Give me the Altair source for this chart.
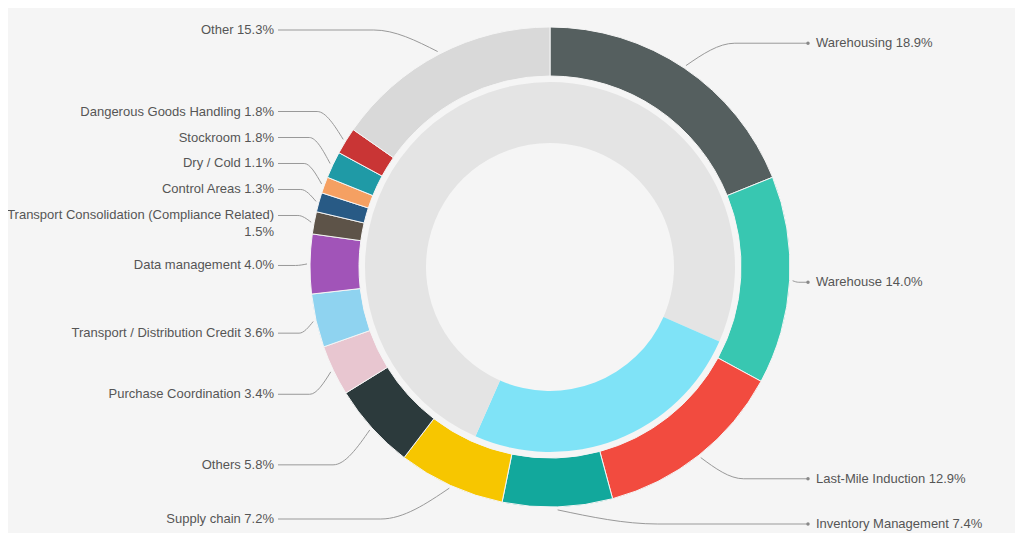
import math
import altair as alt
import pandas as pd

# ---- data ----
categories = [
    "Warehousing", "Warehouse", "Last-Mile Induction", "Inventory Management",
    "Supply chain", "Others", "Purchase Coordination",
    "Transport / Distribution Credit", "Data management",
    "Transport Consolidation (Compliance Related)", "Control Areas",
    "Dry / Cold", "Stockroom", "Dangerous Goods Handling", "Other",
]
values = [18.9, 14.0, 12.9, 7.4, 7.2, 5.8, 3.4, 3.6, 4.0, 1.5, 1.3, 1.1, 1.8, 1.8, 15.3]
colors = [
    "#555f5f", "#38c7b1", "#f24b3f", "#12a89c", "#f7c600", "#2c3a3c",
    "#e8c6d0", "#8fd3f0", "#a154b8", "#5d5348", "#285a85", "#f5a062",
    "#1f9aa6", "#c93535", "#d9d9d9",
]
inner_parts = ["Before", "Focus", "After"]
inner_values = [31.6, 25.0, 43.4]
inner_colors = ["#e4e4e4", "#7fe3f7", "#e4e4e4"]

# ---- layout ----
W, H = 1007, 525
CX, CY = 542, 259
R_OUT, R_IN = 240, 191
R2_OUT, R2_IN = 185, 124
R_LINE = 243
XL_LEFT, XL_RIGHT = -272, 258


def arcs(vals):
    tot = sum(vals)
    out, c = [], 0.0
    for v in vals:
        t0 = 2 * math.pi * c / tot
        c += v
        t1 = 2 * math.pi * c / tot
        out.append((t0, t1))
    return out


outer_arcs = arcs(values)
inner_arcs = arcs(inner_values)

outer_df = pd.DataFrame({
    "cat": categories,
    "val": values,
    "t0": [a[0] for a in outer_arcs],
    "t1": [a[1] for a in outer_arcs],
    "cx": 0.0, "cy": 0.0,
})
inner_df = pd.DataFrame({
    "part": inner_parts,
    "t0": [a[0] for a in inner_arcs],
    "t1": [a[1] for a in inner_arcs],
    "cx": 0.0, "cy": 0.0,
})

# label placement
labels = []
for cat, v, (t0, t1) in zip(categories, values, outer_arcs):
    m = (t0 + t1) / 2
    side = "R" if m < math.pi else "L"
    if side == "L":
        y0 = max(-237, min(252, -295 * math.cos(m)))
    else:
        y0 = max(-237, min(257, -270 * math.cos(m)))
    txt = f"{cat} {v:.1f}%"
    lines = 1
    if len(cat) > 35:
        txt = f"{cat}\n{v:.1f}%"
        lines = 2
    labels.append({"cat": cat, "m": m, "side": side, "y": y0, "txt": txt, "lines": lines})

for side in ("L", "R"):
    grp = sorted([l for l in labels if l["side"] == side], key=lambda d: d["y"])
    for _ in range(300):
        moved = False
        for a, b in zip(grp, grp[1:]):
            gap = 26 if a["lines"] == 1 else 50
            d = a["y"] + gap - b["y"]
            if d > 0.01:
                a["y"] -= d / 2
                b["y"] += d / 2
                moved = True
        if not moved:
            break

text_rows, line_rows, dot_rows = [], [], []
for i, l in enumerate(labels):
    xl = XL_LEFT if l["side"] == "L" else XL_RIGHT
    px2 = R_LINE * math.sin(l["m"])
    py2 = -R_LINE * math.cos(l["m"])
    px1 = xl + 0.6 * (px2 - xl)
    for px, py in ((xl, l["y"]), (px1, l["y"]), (px2, py2)):
        line_rows.append({"id": i, "px": px, "py": py})
    if l["side"] == "R":
        dot_rows.append({"px": xl, "py": l["y"]})
    tx = xl - 4 if l["side"] == "L" else xl + 8
    ty = l["y"]
    text_rows.append({"side": l["side"], "tx": tx, "ty": ty, "txt": l["txt"]})

lines_df = pd.DataFrame(line_rows)
text_df = pd.DataFrame(text_rows)
dots_df = pd.DataFrame(dot_rows)

xs = alt.Scale(domain=[-CX, W - CX])
ys = alt.Scale(domain=[-CY, H - CY], reverse=True)

base_xy = dict(
    x=alt.X("cx:Q", scale=xs, axis=None),
    y=alt.Y("cy:Q", scale=ys, axis=None),
)

inner = alt.Chart(inner_df).mark_arc(innerRadius=R2_IN, outerRadius=R2_OUT).encode(
    theta=alt.Theta("t0:Q", scale=None),
    theta2=alt.Theta2("t1:Q"),
    color=alt.Color("part:N", scale=alt.Scale(domain=inner_parts, range=inner_colors), legend=None),
    **base_xy,
)

outer = alt.Chart(outer_df).mark_arc(
    innerRadius=R_IN, outerRadius=R_OUT, stroke="#f5f5f5", strokeWidth=1
).encode(
    theta=alt.Theta("t0:Q", scale=None),
    theta2=alt.Theta2("t1:Q"),
    color=alt.Color("cat:N", scale=alt.Scale(domain=categories, range=colors), legend=None),
    **base_xy,
)

leaders = alt.Chart(lines_df).mark_line(
    interpolate="monotone", color="#999999", strokeWidth=1
).encode(
    x=alt.X("px:Q", scale=xs, axis=None),
    y=alt.Y("py:Q", scale=ys, axis=None),
    detail="id:N",
    order="px:Q",
)

dots = alt.Chart(dots_df).mark_circle(size=12, color="#888888", opacity=1).encode(
    x=alt.X("px:Q", scale=xs, axis=None),
    y=alt.Y("py:Q", scale=ys, axis=None),
)

text_style = dict(baseline="middle", fontSize=13, font="Liberation Sans",
                  color="#555555", lineBreak="\n", lineHeight=17)
text_l = alt.Chart(text_df[text_df.side == "L"]).mark_text(align="right", **text_style).encode(
    x=alt.X("tx:Q", scale=xs, axis=None),
    y=alt.Y("ty:Q", scale=ys, axis=None),
    text="txt:N",
)
text_r = alt.Chart(text_df[text_df.side == "R"]).mark_text(align="left", **text_style).encode(
    x=alt.X("tx:Q", scale=xs, axis=None),
    y=alt.Y("ty:Q", scale=ys, axis=None),
    text="txt:N",
)

chart = alt.layer(inner, outer, leaders, dots, text_l, text_r).resolve_scale(
    color="independent"
).properties(
    width=W, height=H, padding=0, background="#f5f5f5",
    autosize=alt.AutoSizeParams(type="none"),
).configure_view(stroke=None)

chart.save("out.html", embed_options={"renderer": "svg", "actions": False})
